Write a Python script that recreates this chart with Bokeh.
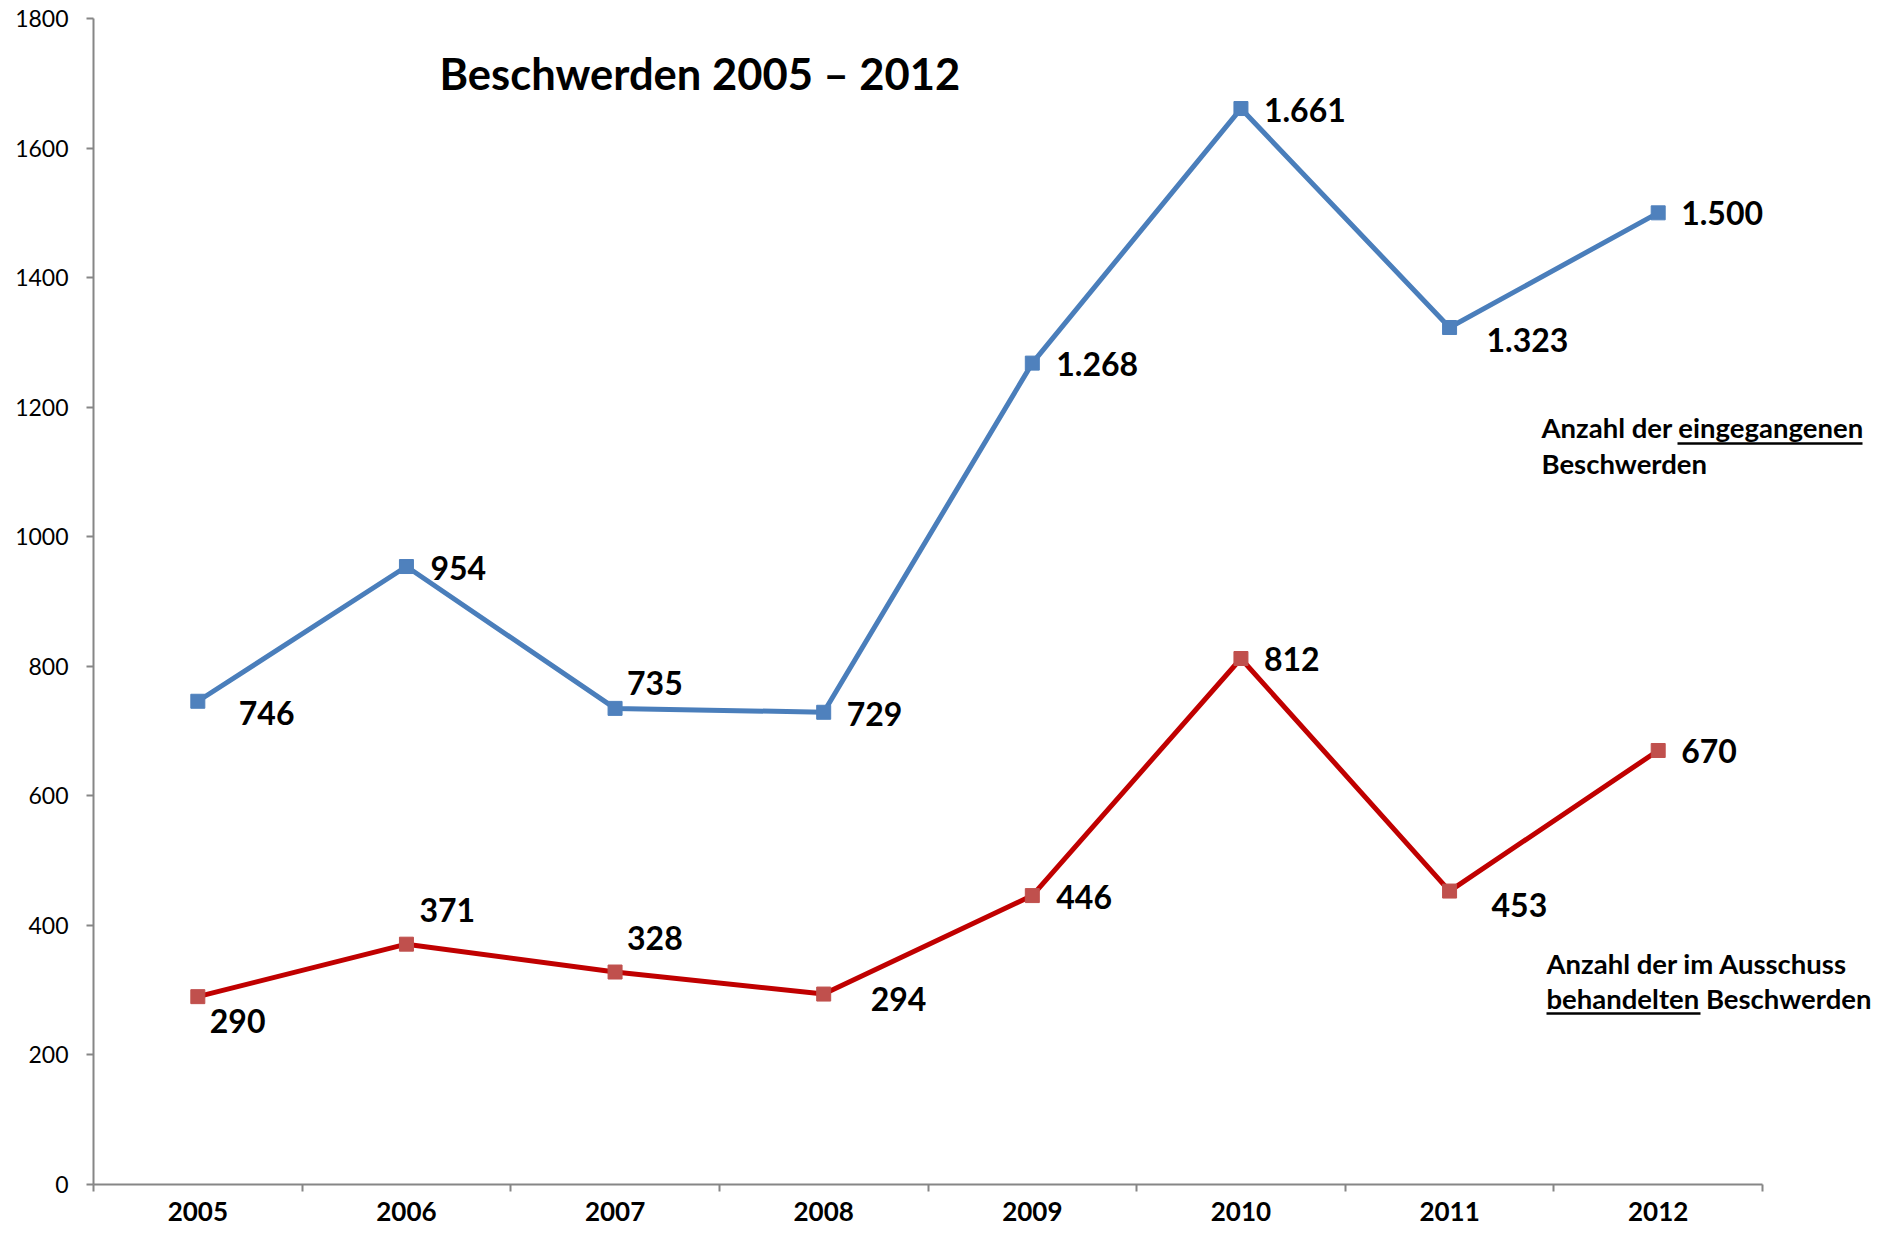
from bokeh.plotting import figure
from bokeh.models import (ColumnDataSource, Range1d, FixedTicker, Label, LabelSet, Arrow)
from bokeh.core.properties import value
from bokeh.embed import file_html
from bokeh.resources import INLINE

# ---- data ----
years = ["2005", "2006", "2007", "2008", "2009", "2010", "2011", "2012"]
eingegangen = [746, 954, 735, 729, 1268, 1661, 1323, 1500]
behandelt = [290, 371, 328, 294, 446, 812, 453, 670]
eingegangen_labels = ["746", "954", "735", "729", "1.268", "1.661", "1.323", "1.500"]
behandelt_labels = ["290", "371", "328", "294", "446", "812", "453", "670"]
y_ticks = [0, 200, 400, 600, 800, 1000, 1200, 1400, 1600, 1800]
title_text = "Beschwerden 2005 \u2013 2012"

# ---- label offsets (screen px: right, down) ----
blue_off = [(41, 12), (24, 1), (12, -25), (23, 2), (24, 1), (23, 1), (37, 13), (23, 0)]
red_off = [(12, 24), (13, -34), (12, -34), (47, 5), (24, 1), (23, 0), (42, 14), (23, 1)]

FONT = "Lato"
BLUE_LINE = "#4A7EBB"
BLUE_MARK = "#4F81BD"
RED_LINE = "#C00000"
RED_MARK = "#C0504D"
AXIS = "#868686"

W, H = 1871, 1226
# frame geometry in pixels (canvas)
FL, FT, AX_R, FB = 93, 18, 1762, 1184
n = len(years)
xs = list(range(n))
PX_PER_CAT = (AX_R - FL) / n
x_max = -0.5 + (W - FL) / PX_PER_CAT
FH = FB - FT


def xd(px):
    return -0.5 + (px - FL) / PX_PER_CAT


def yd(py):
    return (FB - py) / FH * 1800


p = figure(width=W, height=H, output_backend="svg", toolbar_location=None,
           x_range=Range1d(-0.5, x_max), y_range=Range1d(0, 1800),
           min_border_left=FL, min_border_top=FT,
           min_border_right=0, min_border_bottom=H - FB)
p.outline_line_color = None
p.xgrid.visible = False
p.ygrid.visible = False

# x axis
xa = p.xaxis[0]
xa.bounds = (-0.5, n - 0.5)
xa.ticker = FixedTicker(ticks=xs, minor_ticks=[i - 0.5 for i in range(n + 1)])
xa.major_label_overrides = {i: y for i, y in enumerate(years)}
xa.major_tick_line_color = None
xa.major_tick_out = 0
xa.major_tick_in = 0
xa.minor_tick_out = 7
xa.minor_tick_in = 0
xa.minor_tick_line_color = AXIS
xa.minor_tick_line_width = 2
xa.axis_line_color = AXIS
xa.axis_line_width = 2
xa.major_label_standoff = 10
xa.major_label_text_font = FONT
xa.major_label_text_font_style = "bold"
xa.major_label_text_font_size = "26px"
xa.major_label_text_color = "black"

# y axis
ya = p.yaxis[0]
ya.ticker = FixedTicker(ticks=y_ticks, minor_ticks=[])
ya.major_tick_out = 7
ya.major_tick_in = 0
ya.major_tick_line_color = AXIS
ya.major_tick_line_width = 2
ya.axis_line_color = AXIS
ya.axis_line_width = 2
ya.major_label_standoff = 18
ya.major_label_text_font = FONT
ya.major_label_text_font_size = "23px"
ya.major_label_text_color = "black"

# series
src_b = ColumnDataSource(dict(x=xs, y=eingegangen, t=eingegangen_labels,
                              dx=[o[0] for o in blue_off], dy=[-o[1] for o in blue_off]))
src_r = ColumnDataSource(dict(x=xs, y=behandelt, t=behandelt_labels,
                              dx=[o[0] for o in red_off], dy=[-o[1] for o in red_off]))

p.line("x", "y", source=src_b, line_color=BLUE_LINE, line_width=5, line_join="round")
p.scatter("x", "y", source=src_b, marker="square", size=14, fill_color=BLUE_MARK,
          line_color=BLUE_MARK)
p.line("x", "y", source=src_r, line_color=RED_LINE, line_width=5, line_join="round")
p.scatter("x", "y", source=src_r, marker="square", size=14, fill_color=RED_MARK,
          line_color=RED_MARK)

for src in (src_b, src_r):
    p.add_layout(LabelSet(x="x", y="y", text="t", source=src, x_offset="dx", y_offset="dy",
                          text_font=value(FONT), text_font_style="bold",
                          text_font_size="32px", text_color="black",
                          text_align="left", text_baseline="middle"))

# title
p.add_layout(Label(x=xd(439), y=yd(72), text=title_text, text_font=FONT,
                   text_font_style="bold", text_font_size="43.5px", text_color="black",
                   text_align="left", text_baseline="middle"))

# series descriptions
desc = [
    ("Anzahl der eingegangenen", 1541, 427),
    ("Beschwerden", 1541, 463),
    ("Anzahl der im Ausschuss", 1546, 963),
    ("behandelten Beschwerden", 1546, 998),
]
for txt, px, py in desc:
    p.add_layout(Label(x=xd(px), y=yd(py), text=txt, text_font=FONT,
                       text_font_style="bold", text_font_size="27.5px", text_color="black",
                       text_align="left", text_baseline="middle"))

for x0, x1, py in [(1677, 1862, 443), (1546, 1700, 1013)]:
    p.add_layout(Arrow(x_start=xd(x0), x_end=xd(x1), y_start=yd(py), y_end=yd(py),
                       start=None, end=None, line_color="black", line_width=2.5))

open("out.html", "w").write(file_html(p, INLINE))
